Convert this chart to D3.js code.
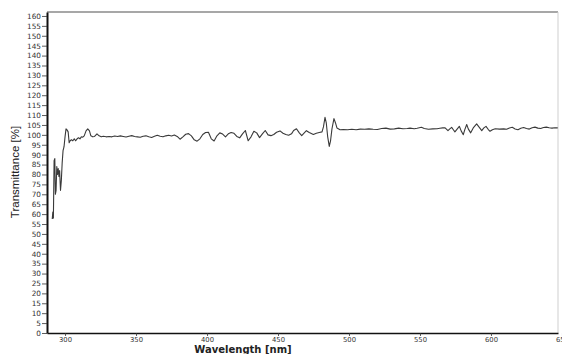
<!DOCTYPE html>
<html><head><meta charset="utf-8">
<script src="https://cdn.jsdelivr.net/npm/d3@7"></script>
<style>html,body{margin:0;padding:0;background:#fff;}svg{display:block;}</style>
</head><body>
<svg id="chart" width="562" height="354"></svg>
<script>
const wavelength = [291.0,291.4,291.8,292.3,292.8,293.2,293.7,294.2,294.7,295.2,295.7,296.2,296.8,297.4,298.0,298.6,299.3,300.0,300.7,301.4,302.2,302.9,303.6,304.5,305.5,306.5,307.5,308.5,309.5,310.5,311.5,312.5,313.5,314.8,316.0,317.2,318.2,319.5,320.8,322.5,324.0,325.5,327,329,331,333,335,337,339,341,343,345,347,349,351,353,355,357,359,361,363,365,367,369,371,373,375,377,379,381,383,385,387,389,391,393,395,397,399,401,403,405,407,409,411,413,415,417,419,421,423,425,427,429,431,433,435,437,439,441,443,445,447,449,451.4,453.5,455.5,457.5,459.5,461,463,465,466.7,468.5,470,472,474.9,477,479,481,482,483.1,484,485,486.1,487,488,489.4,490.5,491.5,493.7,496,499,502,505,508,511,514,517,520,523,526,529,532,535,538,541,543,546,548,551,553,556,559,562,564,566,567.5,569.7,571,572.3,573.5,574.6,576,577.7,579,580.5,581.5,582.9,584,585.7,587.5,589.9,591.5,593.5,595,596.5,598,599.3,601,603,606,609,611,613,615,617,619,621,623,625,627,629,631,633,635,637,639,641,643,645,647];
const transmittance = [57.5,61,58,87,88,70,72,84,80,83,79,82,72,77,86,92,94,99,103,102.5,101.5,96,97,97.5,97,98,97,98,98.5,98,99,98.8,99.5,102,103,102,99.5,99,99.2,100.5,99.5,99,99.3,99,99.2,99,99.4,99.2,99.5,99.2,98.9,99.3,99.6,99.2,99,98.8,99.3,99.5,99,98.7,99.3,99.8,99.3,99.0,99.5,99.8,99.4,99.9,99.2,97.8,99,100.3,100.6,99.5,97.5,96.8,98,100.2,101.2,101.3,98,96.9,99.5,101,100.4,99,100.5,101.2,100.8,99.2,98.5,100.5,102.2,97,99,101.8,101,98.6,100.5,102.2,100,99.6,100.2,101.3,102,100.8,100.2,99.8,100.5,102.2,103.1,101,99.6,101,102.1,101.2,100.2,100.8,101.2,101.5,104,108.8,106,99,94.2,97,103,108.2,106,103.5,102.6,102.7,102.6,102.8,102.6,102.9,102.8,103,102.8,102.7,103.2,103.4,102.9,103,103.4,103.1,103.2,103.4,103.1,103.3,103.8,103.2,102.8,103,103.1,103.3,103.5,103.6,102.1,103,103.8,102.6,101.5,102.8,104.3,102,100.1,102.5,105.2,103,101,103.5,105.5,104,102.1,103.5,104.3,102.8,101.8,102.6,103.1,102.9,103,102.8,103.5,103.8,103,102.6,103.3,103.7,103.2,102.9,103.6,103.9,103.4,103.2,103.7,103.9,103.6,103.4,103.6,103.5];
const xTicks = [300,350,400,450,500,550,600,650];
const yTicks = d3.range(0,161,5);
const xTitle = "Wavelength [nm]";
const yTitle = "Transmittance [%]";

const svg = d3.select("#chart");
const L = 47, R = 558, T = 12, B = 333;
const x = d3.scaleLinear().domain([287.3, 647.2]).range([L, R]);
const y = d3.scaleLinear().domain([0, 162]).range([B, T]);

// frame top and right
svg.append("line").attr("x1", L).attr("x2", R).attr("y1", T).attr("y2", T)
  .attr("stroke", "#8a8a8a").attr("stroke-width", 1.6);
svg.append("line").attr("x1", R).attr("x2", R).attr("y1", T).attr("y2", B)
  .attr("stroke", "#cfcfcf").attr("stroke-width", 1);

// y axis
const yAxis = svg.append("g").attr("transform", `translate(${L},0)`)
  .call(d3.axisLeft(y).tickValues(yTicks).tickSize(5).tickPadding(1).tickSizeOuter(0));
yAxis.select(".domain").attr("stroke", "#111").attr("stroke-width", 2);
yAxis.selectAll(".tick line").attr("stroke", "#333").attr("stroke-width", 0.8);
yAxis.selectAll("text").attr("font-family", "DejaVu Sans").attr("font-size", 7.3).attr("fill", "#333");

// x axis
const xAxis = svg.append("g").attr("transform", `translate(0,${B})`)
  .call(d3.axisBottom(x).tickValues(xTicks).tickSize(3).tickPadding(1).tickSizeOuter(0));
xAxis.select(".domain").attr("stroke", "#111").attr("stroke-width", 1.6);
xAxis.selectAll(".tick line").attr("stroke", "#333").attr("stroke-width", 0.8);
xAxis.selectAll("text").attr("font-family", "DejaVu Sans").attr("font-size", 6.8).attr("fill", "#333");

// line
const data = wavelength.map((w, i) => ({w, t: transmittance[i]}));
svg.append("path").datum(data)
  .attr("fill", "none").attr("stroke", "#3a3a3a").attr("stroke-width", 1.1)
  .attr("stroke-linejoin", "round")
  .attr("d", d3.line().x(d => x(d.w)).y(d => y(d.t)));

// titles
svg.append("text").attr("x", 243).attr("y", 353).attr("text-anchor", "middle")
  .attr("font-family", "DejaVu Sans").attr("font-weight", "bold").attr("font-size", 10)
  .attr("fill", "#222").text(xTitle);
svg.append("text").attr("transform", "translate(19,172) rotate(-90)").attr("text-anchor", "middle")
  .attr("font-family", "Liberation Sans Narrow, Liberation Sans, sans-serif").attr("font-size", 11.5)
  .attr("fill", "#222").text(yTitle);
</script>
</body></html>
